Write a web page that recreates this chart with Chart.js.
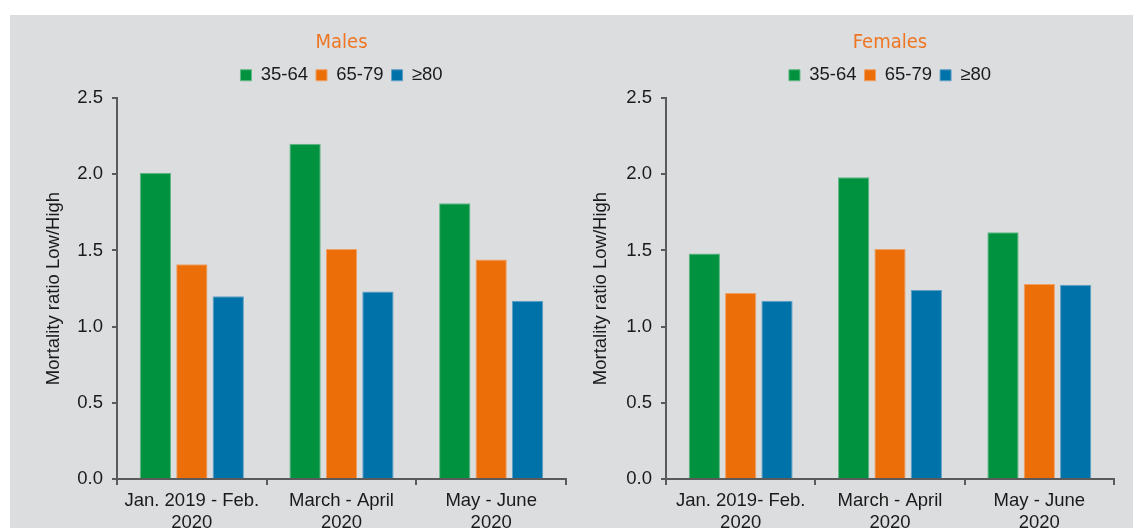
<!DOCTYPE html>
<html>
<head>
<meta charset="utf-8">
<script src="https://cdn.jsdelivr.net/npm/chart.js@4.4.0/dist/chart.umd.min.js"></script>
<style>
  html, body { margin: 0; padding: 0; background: #fff; overflow: hidden; }
  #bg { position: absolute; left: 10px; top: 15px; width: 1123px; height: 525px; background: #dcdddf; }
  .box { position: absolute; top: 0; height: 540px; }
  #boxMales { left: 11px; width: 560px; }
  #boxFemales { left: 560px; width: 573px; }
</style>
</head>
<body>
<div id="bg"></div>
<div class="box" id="boxMales"><canvas id="males"></canvas></div>
<div class="box" id="boxFemales"><canvas id="females"></canvas></div>
<script>
// Daten
const ageGroups = ['35-64', '65-79', '≥80'];
const malePeriods = [['Jan. 2019 - Feb.', '2020'], ['March - April', '2020'], ['May - June', '2020']];
const femalePeriods = [['Jan. 2019- Feb.', '2020'], ['March - April', '2020'], ['May - June', '2020']];
const males3564 = [2.01, 2.20, 1.81];
const males6579 = [1.41, 1.51, 1.44];
const males80 = [1.20, 1.23, 1.17];
const females3564 = [1.48, 1.98, 1.62];
const females6579 = [1.22, 1.51, 1.28];
const females80 = [1.17, 1.24, 1.275];
const yTicks = [0, 0.5, 1.0, 1.5, 2.0, 2.5];

const colors = ['#00923f', '#eb6e08', '#0072aa'];
const edges = ['#5fb883', '#f0a064', '#5f9fc6'];
const axisColor = '#5a5a5a';
const textColor = '#1a1a1a';
const mainFont = "'Liberation Sans', Arial, sans-serif";
const fontSize = 18.5;

function makeChart(id, title, labels, series, padRight, titlePad) {
    const ctx = document.getElementById(id);
    return new Chart(ctx, {
        type: 'bar',
        data: {
            labels: labels,
            datasets: series.map((vals, i) => ({
                label: ageGroups[i],
                data: vals,
                backgroundColor: colors[i],
                borderColor: edges[i],
                borderWidth: 1,
                categoryPercentage: 0.73,
                barPercentage: 0.86
            }))
        },
        options: {
            responsive: true,
            maintainAspectRatio: false,
            animation: false,
            layout: { padding: { left: 0, right: padRight, top: 0, bottom: 0 } },
            plugins: {
                tooltip: { enabled: false },
                title: {
                    display: true,
                    text: title,
                    fullSize: false,
                    color: '#ee7623',
                    font: { family: "'Liberation Sans Narrow', 'DejaVu Sans Condensed', sans-serif", size: 20, weight: 'normal' },
                    padding: { top: 31, bottom: 3 }
                },
                // leerer Abstandshalter zwischen Legende und Diagramm
                subtitle: {
                    display: true,
                    text: '',
                    weight: 500,
                    fullSize: false,
                    font: { size: 3 },
                    padding: 0
                },
                legend: {
                    display: true,
                    fullSize: false,
                    labels: {
                        color: textColor,
                        font: { family: mainFont, size: fontSize },
                        boxWidth: 11,
                        boxHeight: 11,
                        padding: 8
                    }
                }
            },
            scales: {
                x: {
                    grid: { display: true, drawOnChartArea: false, color: axisColor, lineWidth: 2, tickLength: 6, offset: true },
                    border: { color: axisColor, width: 2 },
                    ticks: { color: textColor, font: { family: mainFont, size: fontSize, lineHeight: 1.19 }, maxRotation: 0, padding: 5 },
                    afterFit: s => { s.height = 61; }
                },
                y: {
                    min: 0,
                    max: 2.5,
                    afterBuildTicks: s => { s.ticks = yTicks.map(v => ({ value: v })); },
                    grid: { display: true, drawOnChartArea: false, color: axisColor, lineWidth: 2, tickLength: 5 },
                    border: { color: axisColor, width: 2 },
                    ticks: { color: textColor, font: { family: mainFont, size: fontSize }, padding: 9, callback: v => v.toFixed(1) },
                    title: { display: true, text: 'Mortality ratio Low/High', color: textColor, font: { family: mainFont, size: fontSize }, padding: { top: titlePad, bottom: 0 } },
                    afterFit: s => { s.width = 106; }
                }
            }
        }
    });
}

makeChart('males', 'Males', malePeriods, [males3564, males6579, males80], 5, 32);
makeChart('females', 'Females', femalePeriods, [females3564, females6579, females80], 19, 30);
</script>
</body>
</html>
